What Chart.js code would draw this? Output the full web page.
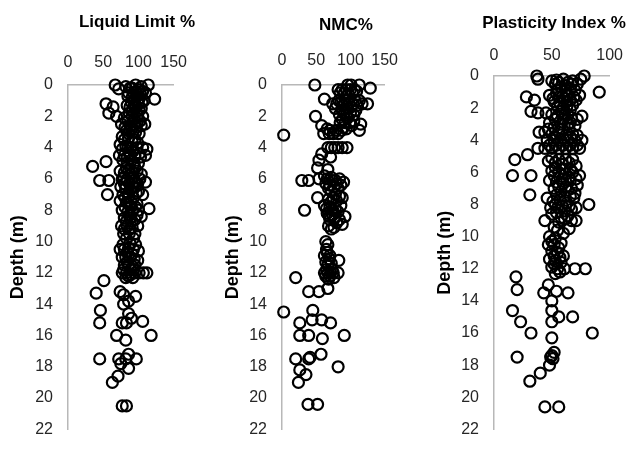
<!DOCTYPE html>
<html>
<head>
<meta charset="utf-8">
<script src="https://cdn.jsdelivr.net/npm/chart.js@4"></script>
<style>
  html, body { margin: 0; padding: 0; background: #fff; }
  #wrap { position: relative; width: 634px; height: 454px; overflow: hidden; }
  canvas { position: absolute; top: 0; }
</style>
</head>
<body>
<div id="wrap">
  <canvas id="ll" width="200" height="454" style="left:0px"></canvas>
  <canvas id="nmc" width="200" height="454" style="left:213px"></canvas>
  <canvas id="pi" width="209" height="454" style="left:425px"></canvas>
</div>
<script>
// panel titles and depth ticks
const titles = ['Liquid Limit %', 'NMC%', 'Plasticity Index %'];
const depthLabel = 'Depth (m)';
const depthMax = 22;
const depthStep = 2;
const valueMax = [150, 150, 100];
const valueStep = 50;

// [value %, depth m]
const llPoints = [
  [67,0],[72,0.25],[96,0],[114,0],[123,0.9],[54,1.2],[64,1.4],[58,1.8],[69,2],[109,2.5],
  [54,4.9],[35,5.2],[45,6.1],[58,6.1],[56,7],[115,7.9],
  [88,0.2],[100,0.3],[106,0.4],[93,0.5],[98,0.6],[110,0.5],[85,0.7],[102,0.8],[95,0.9],[108,1.0],
  [90,1.1],[100,1.2],[84,1.3],[96,1.4],[104,1.5],[92,1.6],[87,1.8],[99,1.9],[106,2.0],[80,2.1],
  [94,2.2],[102,2.3],[76,2.5],[88,2.6],[97,2.7],[83,2.9],[92,3.0],[101,3.1],[77,3.3],[86,3.4],[95,3.5],
  [74,3.8],[82,3.9],[90,4.0],[98,4.0],[106,4.0],[112,4.1],[73,4.5],[80,4.5],[88,4.5],[95,4.5],
  [103,4.6],[110,4.5],[84,5.0],[94,5.0],
  [74,5.5],[80,5.6],[86,5.5],[92,5.6],[98,5.5],[104,5.7],[77,6.0],[84,6.1],[90,6.0],[96,6.2],
  [102,6.0],[110,6.2],[75,6.5],[82,6.6],[88,6.7],[95,6.5],[100,6.8],[78,7.0],[86,7.1],[93,7.2],
  [106,7.0],[74,7.4],[83,7.5],[90,7.5],[98,7.6],
  [77,8.0],[85,8.1],[92,8.0],[100,8.0],[80,8.5],[88,8.5],[95,8.6],[104,8.4],[76,9.0],[84,9.0],
  [91,9.1],[99,9.0],[79,9.5],[87,9.5],[95,9.5],
  [74,10.5],[80,10.5],[86,10.4],[93,10.5],[100,10.6],[82,11.0],[88,11.0],[94,11.1],[80,11.5],
  [86,11.5],[92,11.6],[77,12.0],[83,12.0],[89,12.1],[95,12.0],[101,12.0],[107,12.0],[112,12.0],[82,12.3],
  [82,0.1],[91,0.2],[104,0.1],[97,0.4],[86,0.5],[103,0.6],[91,0.8],[99,1.0],[105,1.1],[94,1.3],
  [88,1.4],[101,1.6],[97,1.7],[91,2.0],[85,2.3],[98,2.4],[104,2.6],[81,2.7],[90,2.8],[96,3.0],
  [86,3.1],[80,3.5],[91,3.6],[99,3.7],[85,4.0],[77,4.1],[93,4.2],[101,4.4],[84,4.6],[78,4.8],
  [90,4.8],[100,5.0],[83,5.3],[95,5.3],[89,5.7],[79,5.9],[93,5.9],[87,6.3],[99,6.3],[80,6.3],
  [92,6.5],[86,6.9],[97,6.9],[81,7.2],[89,7.8],[96,7.8],[81,7.8],[87,8.3],[98,8.3],[83,8.7],
  [91,8.7],[88,9.2],[80,9.2],[93,9.8],[83,9.8],[88,10.1],[78,10.2],[96,10.2],[91,10.8],[84,10.7],
  [77,11.0],[99,11.2],[84,11.3],[89,11.8],[79,11.8],[95,11.5],[86,12.2],[92,12.3],
  [51,12.5],[40,13.3],[74,13.2],[79,13.4],[96,13.5],[86,13.8],[79,14],[46,14.4],[45,15.2],[77,15.2],
  [83,15.2],[90,14.9],[106,15.1],[86,14.6],[69,16],[118,16],[82,16.3],[45,17.5],[72,17.5],[82,17.5],
  [86,17.2],[97,17.5],[75,17.8],[86,18.1],[71,18.6],[63,19],[77,20.5],[83,20.5]
];

const nmcPoints = [
  [48,0],[82,0.3],[88,0.3],[94,0.3],[100,0.3],[106,0.3],[101,0],[113,0],[129,0.2],[62,0.9],
  [74,1.2],[80,1.2],[86,1.1],[92,1.2],[98,1.2],[104,1.2],[110,1.3],[117,1.2],[125,1.2],[78,1.5],
  [88,1.6],[96,1.5],[108,1.6],[84,1.9],[94,1.9],[100,1.8],
  [85,0.5],[91,0.5],[97,0.6],[103,0.5],[109,0.4],[96,0.0],[83,1.0],[89,1.3],[95,1.0],[101,1.4],
  [107,1.0],[113,1.0],[91,1.8],[105,1.9],[88,2.2],[96,2.1],[102,2.6],[94,2.8],[87,2.9],[79,2.9],[70,2.9],
  [49,2],[85,2.4],[92,2.4],[99,2.4],[105,2.3],[115,2.5],[113,2.9],[2.5,3.2],[58,2.6],[61,3.1],
  [69,3.1],[75,3.1],[82,3.1],[66,2.8],[90,2.7],
  [67,4],[72,4],[77,4],[82,4],[88,4],[95,4],[58,4.4],[71,4.6],[54,4.8],[52,5.3],[67,5.4],[62,5.8],
  [54,6.0],[29,6.1],[39,6.1],
  [66,6.0],[72,5.9],[78,6.1],[84,6.0],[90,6.2],[70,6.4],[76,6.5],[82,6.6],[72,6.8],
  [64,6.3],[80,6.3],[86,6.4],[74,6.1],[68,6.6],[78,7.0],[84,7.1],[71,7.5],[80,7.4],
  [52,7.2],[88,7.2],[68,7.3],[75,7.2],[33,8],[62,7.7],[70,7.8],[78,7.9],[86,7.7],[66,8.2],[74,8.3],
  [92,8.4],[70,8.6],[80,8.8],[68,9.0],[76,9.1],[88,8.9],
  [65,7.9],[74,8.0],[82,8.1],[69,8.4],[77,8.5],[84,8.6],[72,9.2],
  [64,10.0],[67,10.2],[65,10.5],[62,10.9],[70,10.9],[83,11.2],[67,11.5],[72,11.4],[62,12],[67,12],
  [71,12],[75,12],[82,12],[68,12.4],[67,13],[20,12.3],[39,13.2],[54,13.2],
  [66,10.7],[69,11.1],[64,11.3],[73,11.8],[65,11.8],[70,12.2],[64,12.2],[76,12.3],
  [2.5,14.5],[45,14.4],[44,15],[58,15],[71,15.2],[26,15.2],[26,16],[39,16],[59,16.2],[91,16],
  [20,17.5],[39,17.5],[41,17.4],[57,17.2],[82,18],[26,18.2],[35,18.5],[24,19],[38,20.4],[52,20.4]
];

const piPoints = [
  [37,0],[38,0.2],[54,0.25],[78,0],[75,0.2],[91,1],[28,1.3],[35,1.5],[32,2.2],[38,2.3],[76,2.5],
  [39,3.5],[38,4.5],[29,4.9],[18,5.2],[16,6.2],[32,6.2],[31,7.4],[82,8],
  [50,0.3],[56,0.4],[60,0.2],[64,0.4],[68,0.3],[72,0.5],[58,0.7],[66,0.8],[62,0.9],[70,0.9],
  [48,1.2],[54,1.1],[59,1.3],[64,1.2],[69,1.3],[74,1.2],[52,1.6],[57,1.7],[63,1.6],[68,1.8],[60,2.0],[66,2.1],
  [45,2.3],[50,2.4],[55,2.5],[61,2.4],[67,2.6],[72,2.7],[48,2.9],[58,3.0],[64,3.0],[70,3.1],
  [44,3.5],[50,3.6],[56,3.5],[62,3.7],[68,3.6],[46,4.0],[52,4.0],[58,4.0],[64,4.0],[70,4.0],[76,4.0],
  [44,4.5],[50,4.5],[56,4.5],[62,4.5],[68,4.5],[74,4.5],
  [47,5.3],[53,5.4],[59,5.5],[65,5.4],[71,5.6],[50,5.9],[56,6.0],[62,6.1],[68,6.0],[74,6.2],
  [48,6.5],[54,6.6],[60,6.7],[66,6.5],[72,6.8],[52,7.0],[58,7.2],[64,7.1],[70,7.3],
  [46,7.6],[51,7.8],[57,7.7],[63,7.9],[69,7.6],[55,8.2],[61,8.4],[67,8.3],[50,8.6],[58,8.8],[64,8.7],
  [44,9],[52,9.4],[65,9.5],[71,9],[56,9.1],
  [53,0.5],[62,0.6],[67,0.5],[55,0.9],[51,1.4],[56,1.3],[61,1.4],[66,1.5],[71,1.5],[55,1.9],
  [63,1.9],[58,2.2],[64,2.4],[53,2.7],[60,2.7],[66,2.9],[52,3.2],[59,3.3],[65,3.3],[47,3.3],
  [53,3.8],[60,3.9],[66,3.8],[72,3.7],[48,4.3],[54,4.3],[60,4.3],[66,4.3],[72,4.3],[50,5.1],
  [56,5.2],[62,5.2],[68,5.2],[53,5.7],[61,5.8],[66,5.8],[52,6.2],[59,6.4],[65,6.3],[71,6.4],
  [56,6.9],[62,6.9],[67,7.0],[54,7.4],[61,7.5],[66,7.5],[49,8.2],[53,8.0],[59,8.1],[65,8.1],
  [71,8.2],[54,8.5],[61,8.9],[67,9.0],[55,9.6],[60,9.8],[50,10.3],[56,10.7],[52,11.2],[57,11.3],
  [52,11.7],[57,12.2],
  [48,10.0],[53,10.1],[47,10.5],[52,10.5],[58,10.4],[50,10.9],[55,11.0],[60,11.2],[48,11.4],[53,11.5],
  [58,11.6],[50,11.9],[55,12.0],[61,12.0],[70,12],[79,12],[53,12.3],
  [19,12.5],[20,13.3],[43,13.5],[47,13.0],[54,13.4],[64,13.5],[50,14],[50,14.6],[16,14.6],[23,15.3],
  [50,15.3],[56,15],[68,15],[32,16],[50,16.3],[85,16],[20,17.5],[50,17.4],[52,17.2],[51,17.6],[49,17.5],
  [48,18],[40,18.5],[31,19],[44,20.6],[56,20.6]
];

const FONT = '"Liberation Sans", Arial, sans-serif';

// draws the bold title above each panel
const panelTitle = {
  id: 'panelTitle',
  afterDraw(chart, args, o) {
    const ctx = chart.ctx;
    ctx.save();
    ctx.font = 'bold 17px ' + FONT;
    ctx.fillStyle = '#000';
    ctx.textAlign = 'center';
    ctx.textBaseline = 'middle';
    ctx.fillText(o.text, o.x, o.y);
    ctx.restore();
  }
};

function makePanel(id, points, i, lay) {
  const ctx = document.getElementById(id).getContext('2d');
  return new Chart(ctx, {
    type: 'scatter',
    data: {
      datasets: [{
        data: points.map(p => ({ x: p[0], y: p[1] })),
        pointStyle: 'circle',
        pointRadius: 5.5,
        pointBorderWidth: 2.2,
        pointBorderColor: '#000',
        pointBackgroundColor: 'rgba(0,0,0,0)',
        clip: false
      }]
    },
    options: {
      responsive: false,
      animation: false,
      events: [],
      layout: { padding: { left: 0, top: 0, right: lay.padRight, bottom: 11 } },
      plugins: {
        legend: { display: false },
        tooltip: { enabled: false },
        panelTitle: { text: titles[i], x: lay.titleX, y: lay.titleY }
      },
      scales: {
        x: {
          type: 'linear',
          position: 'top',
          min: 0,
          max: valueMax[i],
          grid: { display: false, drawTicks: false },
          border: { display: true, color: '#b8b8b8', width: 1.5 },
          ticks: {
            stepSize: valueStep,
            autoSkip: false,
            maxRotation: 0,
            padding: lay.xTickPad,
            color: '#262626',
            font: { family: FONT, size: 16 }
          },
          afterFit: s => { s.height = lay.top; }
        },
        y: {
          type: 'linear',
          reverse: true,
          min: 0,
          max: depthMax,
          grid: { display: false, drawTicks: false },
          border: { display: true, color: '#b8b8b8', width: 1.5 },
          ticks: {
            stepSize: depthStep,
            autoSkip: false,
            padding: 15,
            color: '#262626',
            font: { family: FONT, size: 16 }
          },
          title: {
            display: true,
            text: depthLabel,
            color: '#000',
            font: { family: FONT, size: 18, weight: 'bold' },
            padding: { top: lay.yTitlePad, bottom: 0 }
          },
          afterFit: s => { s.width = lay.yWidth; }
        }
      }
    },
    plugins: [panelTitle]
  });
}

makePanel('ll', llPoints, 0, { yWidth: 68, top: 85, padRight: 15, titleX: 137, titleY: 22, xTickPad: 13, yTitlePad: 7 });
makePanel('nmc', nmcPoints, 1, { yWidth: 69, top: 85, padRight: 12, titleX: 133, titleY: 25, xTickPad: 15, yTitlePad: 9 });
makePanel('pi', piPoints, 2, { yWidth: 69, top: 76, padRight: 23, titleX: 129, titleY: 23, xTickPad: 11, yTitlePad: 9 });
</script>
</body>
</html>
